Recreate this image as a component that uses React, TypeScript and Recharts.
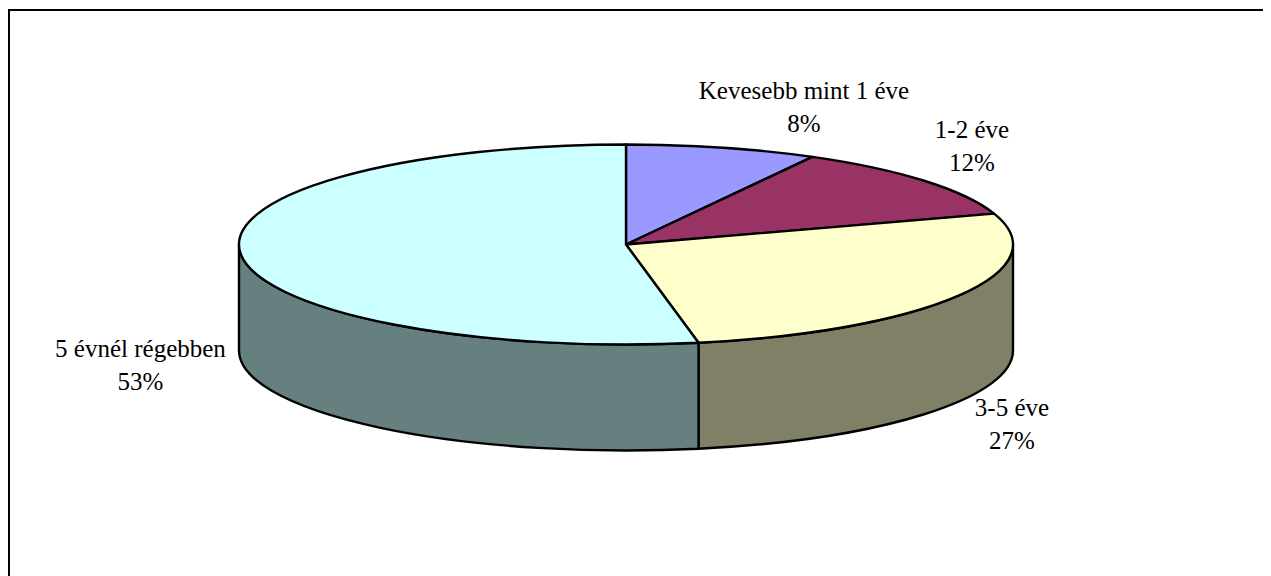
import React from "react";
import { PieChart, Pie, Cell } from "recharts";

const categories = ["Kevesebb mint 1 éve", "1-2 éve", "3-5 éve", "5 évnél régebben"];
const shares = [8, 12, 27, 53];
const topColors = ["#9999FF", "#993366", "#FFFFCC", "#CCFFFF"];
const wallColors = ["#666699", "#662244", "#808066", "#668080"];
const labelPositions = [
  { dx: 178, y: 91 },
  { dx: 346, y: 130 },
  { dx: 386, y: 408 },
  { dx: -485.5, y: 349 },
];

const W = 1263;
const H = 568;
const CX = 618;
const CY = 236.5;
const RX = 387;
const RY = 100;
const DEPTH = 106;
const LINE = 2.4;
const FONT = "'Liberation Serif', 'Times New Roman', serif";

const rows = categories.map((name, i) => ({ name, value: shares[i] }));

// Recharts angles run counter-clockwise from 3 o'clock; map them onto the squashed disc.
const pt = (cx: number, cy: number, rx: number, ry: number, deg: number) => {
  const a = (deg * Math.PI) / 180;
  return [cx + rx * Math.cos(a), cy - ry * Math.sin(a)];
};

const arc = (cx: number, cy: number, rx: number, ry: number, from: number, to: number) => {
  const [x, y] = pt(cx, cy, rx, ry, to);
  return `A ${rx} ${ry} 0 ${Math.abs(to - from) > 180 ? 1 : 0} 1 ${x} ${y}`;
};

const Slice3D = (p: any) => {
  const { cx, cy, outerRadius, startAngle, endAngle, index } = p;
  const rx = outerRadius;
  const ry = (outerRadius * RY) / RX;
  const [sx, sy] = pt(cx, cy, rx, ry, startAngle);
  // The visible rim is the front half of the disc: angles 0 down to -180.
  const frontStart = Math.min(startAngle, 0);
  const frontEnd = Math.max(endAngle, -180);
  const hasWall = frontStart > frontEnd;
  let wall = "";
  if (hasWall) {
    const [ax, ay] = pt(cx, cy, rx, ry, frontStart);
    const [bx, by] = pt(cx, cy, rx, ry, frontEnd);
    wall =
      `M ${ax} ${ay} ` +
      arc(cx, cy, rx, ry, frontStart, frontEnd) +
      ` L ${bx} ${by + DEPTH} ` +
      `A ${rx} ${ry} 0 0 0 ${ax} ${ay + DEPTH} Z`;
  }
  const top = `M ${cx} ${cy} L ${sx} ${sy} ` + arc(cx, cy, rx, ry, startAngle, endAngle) + " Z";
  return (
    <g>
      {hasWall && <path d={wall} fill={wallColors[index]} stroke="#000" strokeWidth={LINE} strokeLinejoin="round" />}
      <path d={top} fill={topColors[index]} stroke="#000" strokeWidth={LINE} strokeLinejoin="round" />
    </g>
  );
};

const SliceLabel = (p: any) => {
  const { cx, index, percent, name } = p;
  const pos = labelPositions[index];
  return (
    <text textAnchor="middle" fontFamily={FONT} fontSize={25} fill="#000">
      <tspan x={cx + pos.dx} y={pos.y}>{name}</tspan>
      <tspan x={cx + pos.dx} dy={32.5}>{`${Math.round(percent * 100)}%`}</tspan>
    </text>
  );
};

export default function App() {
  return (
    <div style={{ width: W, height: H, position: "relative", overflow: "hidden" }}>
      <div
        style={{
          position: "absolute",
          left: 0,
          top: 1,
          right: 0,
          bottom: 0,
          borderTop: "2px solid #000",
          borderLeft: "2px solid #000",
          boxSizing: "border-box",
        }}
      />
      <PieChart width={W} height={H} margin={{ top: 0, right: 0, bottom: 0, left: 0 }} style={{ position: "absolute", left: 0, top: 0 }}>
        <Pie
          data={rows}
          dataKey="value"
          nameKey="name"
          cx={CX}
          cy={CY}
          innerRadius={0}
          outerRadius={RX}
          startAngle={90}
          endAngle={-270}
          paddingAngle={0}
          stroke="none"
          isAnimationActive={false}
          shape={Slice3D}
          label={SliceLabel}
          labelLine={false}
        >
          {rows.map((r, i) => (
            <Cell key={r.name} fill={topColors[i]} />
          ))}
        </Pie>
      </PieChart>
    </div>
  );
}
